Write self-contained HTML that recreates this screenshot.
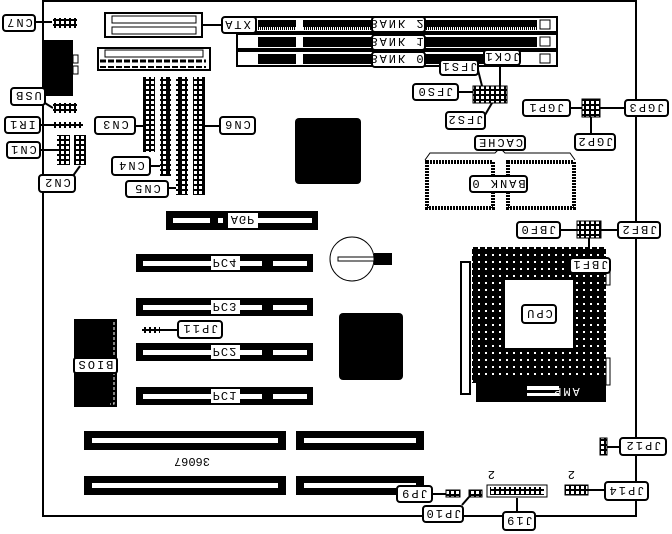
<!DOCTYPE html>
<html><head><style>
html,body{margin:0;padding:0;background:#fff;}
svg{display:block;}
text{font-family:"Liberation Mono",monospace;font-size:12px;fill:#000;}
</style></head><body>
<svg width="672" height="534" viewBox="0 0 672 534" xmlns="http://www.w3.org/2000/svg">
<defs>
<pattern id="comb" width="2" height="20" patternUnits="userSpaceOnUse"><rect width="2" height="20" fill="#000"/><rect x="1" y="7" width="1" height="3" fill="#fff"/></pattern>
<pattern id="ide" width="12" height="5" patternUnits="userSpaceOnUse"><rect width="12" height="5" fill="#000"/><rect x="2" y="1" width="3" height="3" fill="#fff"/><rect x="7" y="1" width="3" height="3" fill="#fff"/></pattern>
<pattern id="pins" width="7" height="7" patternUnits="userSpaceOnUse"><rect width="7" height="7" fill="#000"/><rect x="2" y="2" width="2" height="2" fill="#fff"/></pattern>
<pattern id="hdr" width="5" height="5" patternUnits="userSpaceOnUse"><rect width="5" height="5" fill="#000"/><rect x="1" y="1" width="3" height="3" fill="#fff"/></pattern>
</defs>
<!-- board -->
<rect x="43" y="1" width="593" height="515" fill="none" stroke="#000" stroke-width="2"/>

<!-- leaders -->
<g stroke="#000" stroke-width="2" fill="none">
<path d="M35 22 L52 22"/><path d="M202 25 L222 25"/><path d="M40 100 L53 108"/><path d="M40 125 L53 125"/><path d="M40 150 L60 150"/><path d="M70 180 L80 166"/>
<path d="M135 126 L143 126"/><path d="M205 126 L220 126"/><path d="M150 166 L160 166"/><path d="M168 188 L176 188"/>
<path d="M478 70 L482 86"/><path d="M500 65 L500 86"/><path d="M458 92 L473 92"/><path d="M485 115 L492 103"/>
<path d="M570 108 L582 108"/><path d="M600 108 L625 108"/><path d="M591 117 L591 133"/>
<path d="M560 230 L577 230"/><path d="M601 230 L618 230"/><path d="M589 238 L589 260"/>
<path d="M606 447 L620 447"/><path d="M588 490 L605 490"/><path d="M517 498 L517 512"/><path d="M432 494 L446 494"/><path d="M462 505 L469 497"/><path d="M160 330 L178 330"/>
<path d="M425 160 L430 153 L495 153 L500 148 L505 153 L570 153 L575 160" stroke-width="1"/>
</g>

<!-- CN7 conn -->
<rect x="53" y="18" width="24" height="10" fill="url(#hdr)"/>
<!-- ATX -->
<rect x="105" y="13" width="97" height="24" fill="#fff" stroke="#000" stroke-width="2"/>
<g fill="none" stroke="#000"><path d="M112 16h84v7h-84zM112 27h84v7h-84z"/></g>
<!-- memory slots -->
<g>
<rect x="237" y="17" width="320" height="15" fill="#fff" stroke="#000" stroke-width="2"/>
<rect x="237" y="34" width="320" height="15" fill="#fff" stroke="#000" stroke-width="2"/>
<rect x="237" y="51" width="320" height="15" fill="#fff" stroke="#000" stroke-width="2"/>
<rect x="258" y="20" width="38" height="10" fill="url(#comb)"/><rect x="303" y="20" width="70" height="10" fill="url(#comb)"/><rect x="425" y="20" width="112" height="10" fill="url(#comb)"/>
<rect x="258" y="37" width="38" height="10" fill="url(#comb)"/><rect x="303" y="37" width="70" height="10" fill="url(#comb)"/><rect x="425" y="37" width="112" height="10" fill="url(#comb)"/>
<rect x="258" y="54" width="38" height="10" fill="url(#comb)"/><rect x="303" y="54" width="70" height="10" fill="url(#comb)"/><rect x="425" y="54" width="60" height="10" fill="url(#comb)"/>
<rect x="540" y="20" width="10" height="9" fill="#fff" stroke="#000"/><rect x="540" y="37" width="10" height="9" fill="#fff" stroke="#000"/><rect x="540" y="54" width="10" height="9" fill="#fff" stroke="#000"/>
</g>
<!-- floppy -->
<rect x="98" y="48" width="112" height="22" fill="#fff" stroke="#000" stroke-width="2"/>
<g fill="none" stroke="#000"><path d="M105 50h98v7h-98z"/><path d="M100 61h106" stroke-width="3" stroke-dasharray="6 2"/><path d="M100 67h106" stroke-width="2" stroke-dasharray="6 2"/></g>
<!-- serial/parallel -->
<rect x="43" y="40" width="30" height="56" fill="#000"/><rect x="73" y="55" width="5" height="8" fill="#fff" stroke="#000"/><rect x="73" y="66" width="5" height="8" fill="#fff" stroke="#000"/>
<!-- USB/IR/CN1 connectors -->
<rect x="53" y="103" width="24" height="10" fill="url(#hdr)"/>
<rect x="53" y="122" width="30" height="6" fill="url(#hdr)"/>
<rect x="57" y="135" width="13" height="30" fill="url(#hdr)"/>
<rect x="74" y="135" width="12" height="30" fill="url(#hdr)"/>
<!-- IDE -->
<rect x="143" y="77" width="12" height="75" fill="url(#ide)"/>
<rect x="160" y="77" width="11" height="99" fill="url(#ide)"/>
<rect x="176" y="77" width="12" height="118" fill="url(#ide)"/>
<rect x="193" y="77" width="12" height="118" fill="url(#ide)"/>
<!-- chip 1 -->
<rect x="295" y="118" width="66" height="66" rx="4" fill="#000"/>
<!-- jumpers -->
<rect x="473" y="86" width="34" height="17" fill="url(#hdr)" stroke="#000"/>
<rect x="582" y="99" width="18" height="18" fill="url(#hdr)" stroke="#000"/>
<rect x="577" y="221" width="24" height="17" fill="url(#hdr)" stroke="#000"/>
<!-- cache chips -->
<rect x="427" y="162" width="66" height="46" fill="#fff" stroke="#000" stroke-width="4" stroke-dasharray="2 1"/>
<rect x="508" y="162" width="66" height="46" fill="#fff" stroke="#000" stroke-width="4" stroke-dasharray="2 1"/>
<!-- slots -->
<g fill="#000">
<rect x="166" y="211" width="152" height="19"/><rect x="136" y="254" width="177" height="18"/><rect x="136" y="298" width="177" height="18"/><rect x="136" y="343" width="177" height="18"/><rect x="136" y="387" width="177" height="18"/>
<rect x="84" y="431" width="202" height="19"/><rect x="296" y="431" width="128" height="19"/><rect x="84" y="476" width="202" height="19"/><rect x="296" y="476" width="128" height="19"/>
</g>
<g fill="#fff">
<rect x="173" y="218" width="37" height="5"/><rect x="218" y="218" width="5" height="5"/><rect x="258" y="218" width="54" height="5"/>
<rect x="143" y="261" width="68" height="5"/><rect x="240" y="261" width="22" height="5"/><rect x="273" y="261" width="34" height="5"/>
<rect x="143" y="305" width="68" height="5"/><rect x="240" y="305" width="22" height="5"/><rect x="273" y="305" width="34" height="5"/>
<rect x="143" y="350" width="68" height="5"/><rect x="240" y="350" width="22" height="5"/><rect x="273" y="350" width="34" height="5"/>
<rect x="143" y="394" width="68" height="5"/><rect x="240" y="394" width="22" height="5"/><rect x="273" y="394" width="34" height="5"/>
<rect x="92" y="438" width="186" height="5"/><rect x="304" y="438" width="112" height="5"/>
<rect x="92" y="483" width="186" height="5"/><rect x="304" y="483" width="112" height="5"/>
</g>
<!-- JP11 -->
<rect x="142" y="327" width="18" height="6" fill="url(#hdr)"/>
<!-- BIOS -->
<rect x="74" y="319" width="43" height="88" fill="#000"/>
<path d="M114 322v82h-4" stroke="#fff" fill="none" stroke-dasharray="3 2"/>
<!-- battery -->
<circle cx="352" cy="259" r="22" fill="#fff" stroke="#000"/>
<rect x="374" y="253" width="18" height="12" fill="#000"/>
<rect x="338" y="257" width="36" height="4" fill="#fff" stroke="#000"/>
<!-- chip 2 -->
<rect x="339" y="313" width="64" height="67" rx="4" fill="#000"/>
<!-- CPU socket -->
<rect x="472" y="247" width="134" height="136" fill="url(#pins)"/>
<rect x="505" y="280" width="68" height="68" fill="#fff"/>
<rect x="461" y="262" width="9" height="132" fill="#fff" stroke="#000" stroke-width="2"/>
<rect x="476" y="380" width="130" height="22" fill="#000"/>
<rect x="527" y="386" width="32" height="4" fill="#fff"/><rect x="527" y="393" width="32" height="3" fill="#fff"/>
<rect x="606" y="358" width="4" height="27" fill="#fff" stroke="#000"/>
<rect x="606" y="270" width="4" height="15" fill="#fff" stroke="#000"/>
<!-- bottom connectors -->
<rect x="600" y="438" width="7" height="17" fill="url(#hdr)" stroke="#000"/>
<rect x="565" y="485" width="23" height="10" fill="url(#hdr)" stroke="#000"/>
<rect x="487" y="485" width="60" height="12" fill="#fff" stroke="#000"/>
<rect x="490" y="487" width="54" height="8" fill="url(#hdr)"/>
<rect x="446" y="490" width="14" height="7" fill="url(#hdr)" stroke="#000"/>
<rect x="469" y="490" width="13" height="7" fill="url(#hdr)" stroke="#000"/>
<text x="569" y="479" transform="rotate(180 572 475)">2</text>
<text x="489" y="479" transform="rotate(180 492 475)">2</text>
<text x="170" y="466" transform="rotate(180 190 462)">36067</text>

<!-- labels -->
<g fill="#fff" stroke="#000" stroke-width="2">
<rect x="3" y="15" width="32" height="16" rx="3"/>
<rect x="222" y="17" width="34" height="16" rx="3"/>
<rect x="372" y="17" width="53" height="15" rx="3"/>
<rect x="372" y="35" width="53" height="15" rx="3"/>
<rect x="372" y="52" width="53" height="15" rx="3"/>
<rect x="11" y="88" width="34" height="17" rx="3"/>
<rect x="5" y="117" width="35" height="16" rx="3"/>
<rect x="7" y="142" width="33" height="16" rx="3"/>
<rect x="39" y="175" width="36" height="17" rx="3"/>
<rect x="95" y="117" width="40" height="17" rx="3"/>
<rect x="220" y="117" width="35" height="17" rx="3"/>
<rect x="112" y="157" width="38" height="18" rx="3"/>
<rect x="126" y="181" width="42" height="16" rx="3"/>
<rect x="440" y="60" width="38" height="15" rx="3"/>
<rect x="484" y="50" width="36" height="15" rx="3"/>
<rect x="413" y="84" width="45" height="16" rx="3"/>
<rect x="446" y="112" width="39" height="17" rx="3"/>
<rect x="523" y="100" width="47" height="16" rx="3"/>
<rect x="625" y="100" width="43" height="16" rx="3"/>
<rect x="575" y="134" width="40" height="16" rx="3"/>
<rect x="475" y="136" width="50" height="14" rx="3"/>
<rect x="470" y="176" width="57" height="16" rx="3"/>
<rect x="517" y="222" width="43" height="16" rx="3"/>
<rect x="618" y="222" width="42" height="16" rx="3"/>
<rect x="570" y="258" width="40" height="15" rx="3"/>
<rect x="522" y="305" width="34" height="18" rx="3"/>
<rect x="178" y="321" width="44" height="17" rx="3"/>
<rect x="74" y="358" width="43" height="15" rx="2"/>
<rect x="620" y="438" width="46" height="17" rx="3"/>
<rect x="605" y="482" width="43" height="18" rx="3"/>
<rect x="503" y="512" width="32" height="18" rx="3"/>
<rect x="397" y="486" width="35" height="16" rx="3"/>
<rect x="423" y="506" width="40" height="16" rx="3"/>
</g>
<g fill="#fff" stroke="none">
<rect x="228" y="213" width="30" height="15"/><rect x="211" y="256" width="29" height="14"/><rect x="211" y="300" width="29" height="14"/><rect x="211" y="345" width="29" height="14"/><rect x="211" y="389" width="29" height="14"/>
</g>
<g text-anchor="middle" letter-spacing="2">
<text transform="translate(19 23) rotate(180)" y="4">CN7</text>
<text transform="translate(239 25) scale(1 -1)" y="4">ATX</text>
<text transform="translate(398 24) scale(1 -1)" y="4">BANK 2</text>
<text transform="translate(398 42) scale(1 -1)" y="4">BANK 1</text>
<text transform="translate(398 59) scale(1 -1)" y="4">BANK 0</text>
<text transform="translate(28 96) rotate(180)" y="4">USB</text>
<text transform="translate(22 125) rotate(180)" y="4">IR1</text>
<text transform="translate(23 150) rotate(180)" y="4">CN1</text>
<text transform="translate(57 183) rotate(180)" y="4">CN2</text>
<text transform="translate(115 125) rotate(180)" y="4">CN3</text>
<text transform="translate(237 125) rotate(180)" y="4">CN6</text>
<text transform="translate(131 166) rotate(180)" y="4">CN4</text>
<text transform="translate(147 189) rotate(180)" y="4">CN5</text>
<text transform="translate(459 67) rotate(180)" y="4">JFS1</text>
<text transform="translate(502 57) rotate(180)" y="4">JCK1</text>
<text transform="translate(435 92) rotate(180)" y="4">JFS0</text>
<text transform="translate(465 120) rotate(180)" y="4">JFS2</text>
<text transform="translate(546 108) rotate(180)" y="4">JGP1</text>
<text transform="translate(646 108) rotate(180)" y="4">JGP3</text>
<text transform="translate(595 142) rotate(180)" y="4">JGP2</text>
<text transform="translate(500 143) rotate(180)" y="4">CACHE</text>
<text transform="translate(498 184) rotate(180)" y="4">BANK 0</text>
<text transform="translate(538 230) rotate(180)" y="4">JBF0</text>
<text transform="translate(639 230) rotate(180)" y="4">JBF2</text>
<text transform="translate(590 265) rotate(180)" y="4">JBF1</text>
<text transform="translate(539 314) rotate(180)" y="4">CPU</text>
<text transform="translate(243 220) scale(1 -1)" y="4" letter-spacing="1">AGP</text>
<text transform="translate(225 263) scale(1 -1)" y="4" letter-spacing="1">PC4</text>
<text transform="translate(225 307) scale(1 -1)" y="4" letter-spacing="1">PC3</text>
<text transform="translate(225 352) scale(1 -1)" y="4" letter-spacing="1">PC2</text>
<text transform="translate(225 396) scale(1 -1)" y="4" letter-spacing="1">PC1</text>
<text transform="translate(200 329) rotate(180)" y="4">JP11</text>
<text transform="translate(95 365) rotate(180)" y="4">BIOS</text>
<text transform="translate(643 446) rotate(180)" y="4">JP12</text>
<text transform="translate(626 491) rotate(180)" y="4">JP14</text>
<text transform="translate(519 521) rotate(180)" y="4">J19</text>
<text transform="translate(414 494) rotate(180)" y="4">JP9</text>
<text transform="translate(443 514) rotate(180)" y="4">JP10</text>
<text transform="translate(566 392) rotate(180)" y="4" fill="#fff" style="fill:#fff">AMP</text>
</g>
</svg>
</body></html>
